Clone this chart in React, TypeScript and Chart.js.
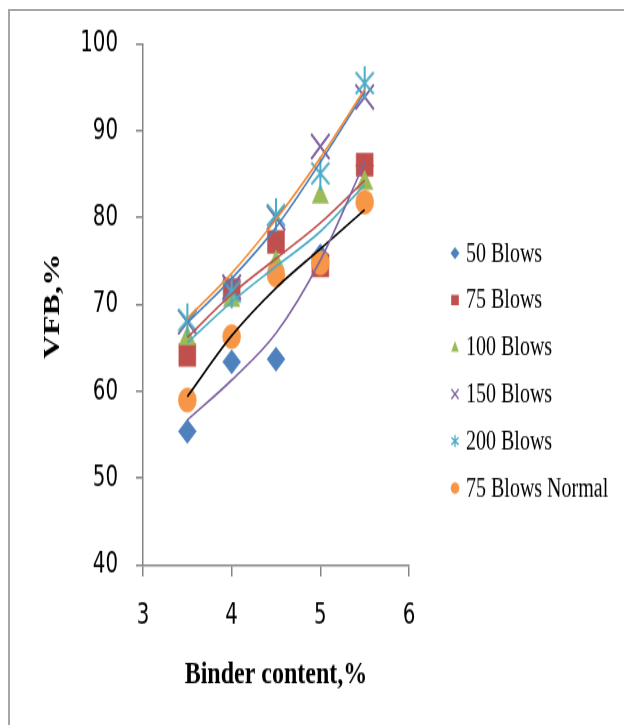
import React, { useEffect, useRef } from "react";
import { Chart, registerables } from "chart.js";
Chart.register(...registerables);

// ---- data ----
const binderContent = [3.5, 4, 4.5, 5, 5.5];
const blows50 = [55.4, 63.4, 63.7, 75.6, 86.0];
const blows75 = [64.2, 71.7, 77.2, 74.5, 86.1];
const blows100 = [66.1, 70.5, 74.8, 82.4, 84.0];
const blows150 = [68.0, 72.0, 80.0, 88.2, 93.9];
const blows200 = [68.2, 71.5, 80.3, 85.1, 95.5];
const blows75Normal = [59.0, 66.3, 73.4, 74.8, 81.8];

// trendlines
const trend50 = [56.7, 61.3, 66.7, 75.1, 86.4];
const trend75 = [66.2, 71.2, 75.3, 79.4, 84.3];
const trend100 = [65.6, 70.3, 74.4, 78.4, 83.8];
const trend150 = [68.4, 73.6, 79.8, 86.9, 94.8];
const trend200 = [67.9, 73.0, 78.9, 86.4, 94.5];
const trend75Normal = [59.4, 66.4, 71.9, 76.4, 80.9];

const seriesLabels = ["50 Blows", "75 Blows", "100 Blows", "150 Blows", "200 Blows", "75 Blows Normal"];
const xAxisTitle = "Binder content,%";
const yAxisTitle = "VFB,%";
const xMin = 3, xMax = 6, xStep = 1;
const yMin = 40, yMax = 100, yStep = 10;

// ---- styling ----
const W = 624, H = 725, S = 1.35;
const CH = Math.round(H / S);
const PLOT_LEFT = 143, PLOT_RIGHT = 409, PLOT_TOP = 44 / S, PLOT_BOTTOM = 565 / S;

const C_BLUE = "#4F81BD", C_RED = "#C0504D", C_GREEN = "#9BBB59", C_PURPLE = "#8064A2", C_AQUA = "#4BACC6", C_ORANGE = "#F79646";
const markerColors = [C_BLUE, C_RED, C_GREEN, C_PURPLE, C_AQUA, C_ORANGE];
const markerKinds = ["diamond", "square", "triangle", "x", "asterisk", "circle"];
const trendColors = [C_PURPLE, C_RED, C_AQUA, "#F58A2E", "#4A7EBB", "#000000"];

const NARROW = "'Liberation Sans Narrow', 'Arial Narrow', 'DejaVu Sans Condensed', sans-serif";
const SERIF = "'Liberation Serif', 'Times New Roman', serif";

function makeAsterisk(w: number, h: number, lw: number, color: string) {
  const c = document.createElement("canvas");
  c.width = w; c.height = h;
  const g = c.getContext("2d")!;
  g.strokeStyle = color; g.lineWidth = lw; g.lineCap = "butt";
  const m = lw;
  g.beginPath();
  g.moveTo(m, h * 0.2); g.lineTo(w - m, h * 0.8);
  g.moveTo(w - m, h * 0.2); g.lineTo(m, h * 0.8);
  g.moveTo(w / 2, 1); g.lineTo(w / 2, h - 1);
  g.stroke();
  return c;
}

function drawMarker(ctx: CanvasRenderingContext2D, kind: string, x: number, y: number, r: number, color: string) {
  ctx.save();
  ctx.fillStyle = color; ctx.strokeStyle = color; ctx.lineWidth = 1.3;
  ctx.beginPath();
  if (kind === "diamond") {
    ctx.moveTo(x, y - r); ctx.lineTo(x + r, y); ctx.lineTo(x, y + r); ctx.lineTo(x - r, y); ctx.closePath(); ctx.fill();
  } else if (kind === "square") {
    ctx.rect(x - r * 0.85, y - r * 0.85, r * 1.7, r * 1.7); ctx.fill();
  } else if (kind === "triangle") {
    ctx.moveTo(x, y - r); ctx.lineTo(x + r * 0.85, y + r * 0.75); ctx.lineTo(x - r * 0.85, y + r * 0.75); ctx.closePath(); ctx.fill();
  } else if (kind === "x") {
    ctx.moveTo(x - r * 0.8, y - r * 0.8); ctx.lineTo(x + r * 0.8, y + r * 0.8);
    ctx.moveTo(x + r * 0.8, y - r * 0.8); ctx.lineTo(x - r * 0.8, y + r * 0.8); ctx.stroke();
  } else if (kind === "asterisk") {
    ctx.moveTo(x - r * 0.8, y - r * 0.6); ctx.lineTo(x + r * 0.8, y + r * 0.6);
    ctx.moveTo(x + r * 0.8, y - r * 0.6); ctx.lineTo(x - r * 0.8, y + r * 0.6);
    ctx.moveTo(x, y - r); ctx.lineTo(x, y + r); ctx.stroke();
  } else {
    ctx.arc(x, y, r * 0.95, 0, Math.PI * 2); ctx.fill();
  }
  ctx.restore();
}

const decorPlugin = {
  id: "decor",
  afterDraw(chart: any) {
    const ctx: CanvasRenderingContext2D = chart.ctx;
    const area = chart.chartArea;
    ctx.save();
    ctx.fillStyle = "#000";
    // x title
    ctx.font = `bold 24px ${SERIF}`;
    ctx.textAlign = "center"; ctx.textBaseline = "middle";
    ctx.fillText(xAxisTitle, (area.left + area.right) / 2, 500);
    // y title
    ctx.save();
    ctx.translate(53, 226.7);
    ctx.rotate(-Math.PI / 2);
    ctx.fillText(yAxisTitle, 0, 0);
    ctx.restore();
    // legend
    ctx.font = `20px ${SERIF}`;
    ctx.textAlign = "left";
    const y0 = 253 / S, dy = 47 / S;
    seriesLabels.forEach((lab, i) => {
      const y = y0 + i * dy;
      drawMarker(ctx, markerKinds[i], 455, y, 4.5, markerColors[i]);
      ctx.fillStyle = "#000";
      ctx.fillText(lab, 466, y + 1);
    });
    ctx.restore();
  },
};

export default function App() {
  const ref = useRef<HTMLCanvasElement>(null);
  useEffect(() => {
    const asterisk = makeAsterisk(22, 27, 2, C_AQUA);
    const seriesValues = [blows50, blows75, blows100, blows150, blows200, blows75Normal];
    const trends = [trend50, trend75, trend100, trend150, trend200, trend75Normal];
    const pointStyles: any[] = ["rectRot", "rect", "triangle", "crossRot", asterisk, "circle"];
    const radii = [9, 12, 9.5, 13, 10, 9];

    const trendSets = trends.map((t, i) => ({
      type: "line" as const,
      label: seriesLabels[i] + " trend",
      data: binderContent.map((x, k) => ({ x, y: t[k] })),
      borderColor: trendColors[i],
      borderWidth: 1.6,
      pointRadius: 0,
      cubicInterpolationMode: "monotone" as const,
      fill: false,
      order: i,
    }));
    const pointSets = seriesValues.map((vals, i) => ({
      type: "scatter" as const,
      label: seriesLabels[i],
      data: binderContent.map((x, k) => ({ x, y: vals[k] })),
      pointStyle: pointStyles[i],
      pointRadius: radii[i],
      pointBackgroundColor: markerColors[i],
      pointBorderColor: markerColors[i],
      pointBorderWidth: i === 3 ? 2 : 0.5,
      showLine: false,
      order: 20 - i,
    }));

    const chart = new Chart(ref.current!, {
      type: "scatter",
      data: { datasets: [...trendSets, ...pointSets] as any },
      plugins: [decorPlugin],
      options: {
        responsive: false,
        devicePixelRatio: 1,
        animation: false,
        events: [],
        layout: { padding: { top: PLOT_TOP, right: W - PLOT_RIGHT, left: 0, bottom: 0 } },
        plugins: { legend: { display: false }, tooltip: { enabled: false } },
        scales: {
          x: {
            type: "linear",
            min: xMin, max: xMax,
            afterFit: (s: any) => { s.height = CH - PLOT_BOTTOM; },
            ticks: { stepSize: xStep, color: "#000", font: { family: NARROW, size: 22 }, padding: 16 },
            grid: { drawOnChartArea: false, drawTicks: true, tickLength: 8.6, color: "#868686", lineWidth: 1.5 },
            border: { display: true, color: "#868686", width: 1.5 },
          },
          y: {
            type: "linear",
            min: yMin, max: yMax,
            afterFit: (s: any) => { s.width = PLOT_LEFT; },
            ticks: { stepSize: yStep, color: "#000", font: { family: NARROW, size: 22 }, padding: 18 },
            grid: { drawOnChartArea: false, drawTicks: true, tickLength: 7, color: "#868686", lineWidth: 1.5 },
            border: { display: true, color: "#868686", width: 1.5 },
          },
        },
      } as any,
    });
    return () => chart.destroy();
  }, []);

  return (
    <div style={{ position: "absolute", left: 0, top: 0, width: W, height: H, background: "#fff", overflow: "hidden" }}>
      <div style={{ position: "absolute", left: 8, top: 9, width: W - 8, height: 2, background: "#a6a6a6" }} />
      <div style={{ position: "absolute", left: 8, top: 9, width: 2, height: H - 9, background: "#a6a6a6" }} />
      <canvas
        ref={ref}
        width={W}
        height={CH}
        style={{ position: "absolute", left: 0, top: 0, width: W + "px", height: H + "px", display: "block" }}
      />
    </div>
  );
}
